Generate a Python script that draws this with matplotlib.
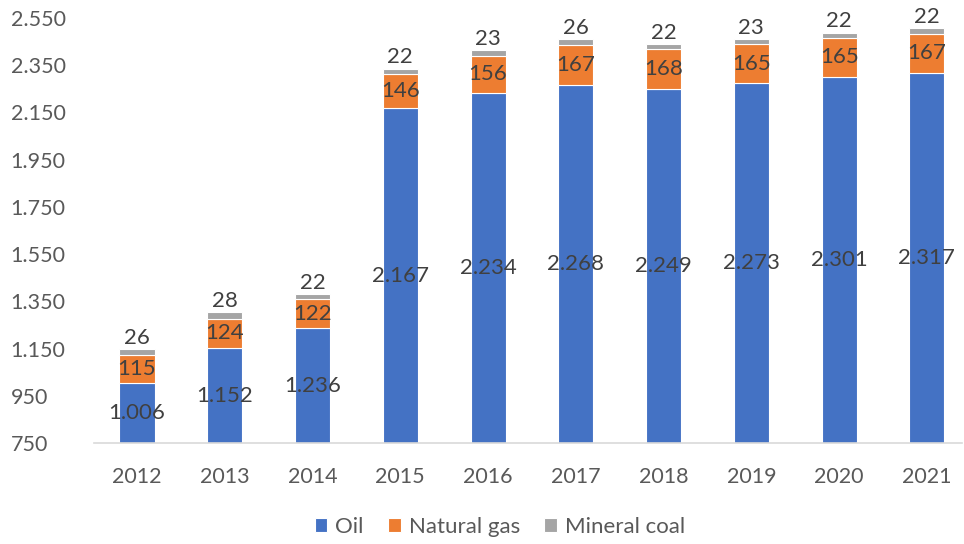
import matplotlib
matplotlib.use("Agg")
import matplotlib.pyplot as plt
from matplotlib.ticker import FuncFormatter
import numpy as np

years = ["2012", "2013", "2014", "2015", "2016", "2017", "2018", "2019", "2020", "2021"]
oil = [1006, 1152, 1236, 2167, 2234, 2268, 2249, 2273, 2301, 2317]
gas = [115, 124, 122, 146, 156, 167, 168, 165, 165, 167]
coal = [26, 28, 22, 22, 23, 26, 22, 23, 22, 22]
yticks = list(range(750, 2551, 200))

plt.rcParams['font.family'] = ['Lato', 'DejaVu Sans']

fig = plt.figure(figsize=(9.64, 5.44), dpi=100)
ax = fig.add_axes([94/964, 1 - 443/544, (962-94)/964, (443-18)/544])

x = np.arange(len(years))
w = 0.40
c_oil, c_gas, c_coal = "#4472C4", "#ED7D31", "#A5A5A5"
oil_a = np.array(oil); gas_a = np.array(gas); coal_a = np.array(coal)
ymin = 750
ax.bar(x, oil_a - ymin, w, bottom=ymin, color=c_oil, edgecolor="white", linewidth=0.8, label="Oil")
ax.bar(x, gas_a, w, bottom=oil_a, color=c_gas, edgecolor="white", linewidth=0.8, label="Natural gas")
ax.bar(x, coal_a, w, bottom=oil_a + gas_a, color=c_coal, edgecolor="white", linewidth=0.8, label="Mineral coal")

def fmt(v):
    return f"{v:,}".replace(",", ".")

lc = "#404040"
fs = 16
for i in range(len(years)):
    ax.text(x[i], (ymin + oil[i]) / 2, fmt(oil[i]), ha="center", va="center", fontsize=fs, color=lc)
    ax.text(x[i], oil[i] + gas[i] / 2, fmt(gas[i]), ha="center", va="center", fontsize=fs, color=lc)
    ax.text(x[i], oil[i] + gas[i] + coal[i] + 6, fmt(coal[i]), ha="center", va="bottom", fontsize=fs, color=lc)

ax.set_ylim(750, 2550)
ax.set_yticks(yticks)
ax.yaxis.set_major_formatter(FuncFormatter(lambda v, p: fmt(int(v))))
ax.set_xlim(-0.49, 9.4)
ax.set_xticks(x)
ax.set_xticklabels(years)
for s in ["top", "right", "left"]:
    ax.spines[s].set_visible(False)
ax.spines["bottom"].set_color("#D9D9D9")
ax.spines["bottom"].set_linewidth(1.2)
ax.tick_params(axis="both", length=0, labelsize=15.5, colors="#595959")
ax.tick_params(axis="y", pad=60)
for lbl in ax.get_yticklabels():
    lbl.set_horizontalalignment("left")
ax.tick_params(axis="x", pad=17)

leg = fig.legend(loc="center", bbox_to_anchor=(500/964, 1 - 527/544), ncol=3, frameon=False,
                 fontsize=16, handlelength=0.55, handleheight=0.55, handletextpad=0.37, columnspacing=1.1)
for t in leg.get_texts():
    t.set_color("#595959")

fig.savefig("out.png", dpi=100)
